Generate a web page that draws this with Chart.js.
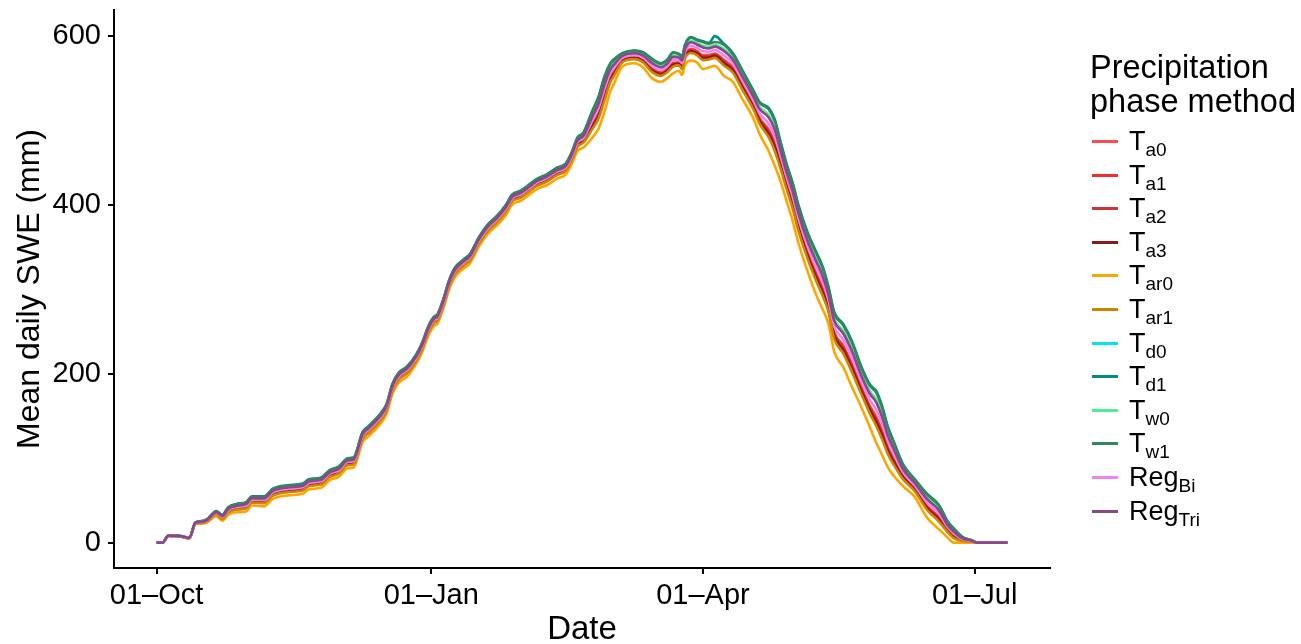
<!DOCTYPE html>
<html>
<head>
<meta charset="utf-8">
<title>Mean daily SWE by precipitation phase method</title>
<script src="https://cdn.jsdelivr.net/npm/chart.js@4.4.1/dist/chart.umd.min.js"></script>
<style>
    html, body { margin: 0; padding: 0; background: #fff; }
    #wrap { position: relative; width: 1301px; height: 644px; overflow: hidden; }
    #chart { position: absolute; left: 0; top: 0; }
    #legend { position: absolute; left: 1090px; top: 0; font-family: "Liberation Sans", Arial, sans-serif; color: #000; }
    .ltitle { position: absolute; left: 0; white-space: nowrap; font-size: 32.5px; line-height: 34px; }
    .litem { position: absolute; left: 0; height: 34px; display: flex; align-items: center; white-space: nowrap; }
    .lkey { width: 26px; height: 3px; margin-left: 2px; margin-right: 11px; }
    .ltext { font-size: 27px; line-height: 34px; }
    .ltext sub { font-size: 19px; vertical-align: -6px; line-height: 0; }
</style>
</head>
<body>
<div id="wrap">
    <canvas id="chart" width="1301" height="644"></canvas>
    <div id="legend"></div>
</div>
<script>
"use strict";

// Days since 01-Oct (leap-year season, daily SWE sampled off the figure)
const days = [0,2,4,8,11,13,15,17,20,22,24,27,30,32,36,39,44,49,51,55,58,61,64,66,69,71,75,77,79,81,84,87,89,91,93,94,96,98,100,103,105,108,111,114,117,119,122,124,127,131,134,137,139,141,143,146,148,150,152,153,156,160,163,166,169,171,173,175,176,177,179,181,183,185,187,190,193,196,200,202,205,207,209,211,213,215,218,221,223,225,227,230,233,236,239,241,243,245,247,250,254,258,262,265,267,270,273,275,285];

// Mean daily SWE (mm) per precipitation phase method
const ta0 = [0,0,8.3,7.5,5.5, 23,24,26,34.5,29.5, 37.5,41,42.5,49.5,49, 58,62,64,69,71, 80,84,94,95,125, 132,147,158,182,195, 203,217.5,231.5,250.5,262.5, 264.5,282.5,305.5,320.5,330.5, 336.5,356.5,371.5,381.5,394, 406,411,416,424,430.5, 437.5,442.5,455,472,477, 496,509,531,551.5,557, 572,575.5,572,561.5,557, 561,568.5,569,565,578, 585,582.5,577.5,577.5,579.5, 572,563,544,518.5,503, 489.5,474.5,451.5,427,404.5, 377.5,345,318.5,302.5,282, 249.5,233.5,211,185,161.5, 149.5,133,113,99,80, 64.5,44,30.5,15.5,8.5, 3.3,1.5,0,0];
const ta1 = [0,0,8.2,7.5,5.5, 22.9,23.9,25.8,34.3,29.2, 37.1,40.6,42.1,49.1,48.5, 57.5,61.5,63.5,68.5,70.5, 79.5,83.5,93.5,94.5,124.5, 131.5,146.5,157.5,181.5,194.5, 202.5,217.1,231.1,250.1,262.1, 264.1,282.1,305.1,320.1,330.1, 336.1,356.1,371.1,381.1,393.5, 405.5,410.5,415.5,423.5,430, 437,442,454.4,471.4,476.3, 494.7,507.5,529.3,550.2,555.8, 571.4,574.9,571.3,560.6,556.1, 560.1,567.5,568.2,564.1,577, 583.9,581.4,576.2,576.3,578.3, 570.5,561.6,542.6,517.2,501.5, 487.5,472.3,449.6,425.2,402.7, 375.7,343.2,316.5,300.5,280.2, 247.6,231.5,208.8,183.1,159.5, 147.1,130.7,111.1,97.4,79, 63.7,42.9,29.3,14.7,7.8, 3,1.4,0,0];
const ta2 = [0,0,8.2,7.4,5.4, 22.9,23.8,25.7,34.1,29, 36.9,40.3,41.7,48.7,48.2, 57.2,61.2,63.2,68.2,70.2, 79.2,83.2,93.2,94.2,124.2, 131.2,146.2,157.2,181.2,194.2, 202.2,216.7,230.7,249.7,261.7, 263.7,281.7,304.7,319.7,329.7, 335.7,355.7,370.7,380.7,393.2, 405.2,410.2,415.2,423.2,429.6, 436.6,441.6,454,470.9,475.7, 493.8,506.3,528.1,549.2,554.9, 570.9,574.5,570.7,559.9,555.5, 559.5,566.8,567.6,563.5,576.3, 583,580.6,575.2,575.5,577.5, 569.3,560.6,541.6,516.2,500.3, 485.9,470.7,448.2,423.9,401.4, 374.4,341.8,314.9,298.9,278.9, 246.2,229.9,207.2,181.6,157.9, 145.2,128.9,109.6,96.2,78.2, 63,42,28.5,14.2,7.3, 2.8,1.3,0,0];
const ta3 = [0,0,8.2,7.4,5.4, 22.8,23.7,25.6,33.9,28.8, 36.6,40,41.4,48.4,47.8, 56.8,60.8,62.8,67.8,69.8, 78.8,82.8,92.8,93.8,123.8, 130.8,145.8,156.8,180.8,193.8, 201.8,216.4,230.4,249.4,261.4, 263.4,281.4,304.4,319.4,329.4, 335.4,355.4,370.4,380.4,392.8, 404.8,409.8,414.8,422.8,429.2, 436.2,441.2,453.6,470.4,475.2, 492.8,505.2,526.8,548.2,554, 570.4,574,570.2,559.2,554.8, 558.8,566,567,562.8,575.6, 582.2,579.8,574.2,574.6,576.6, 568.2,559.6,540.6,515.2,499.2, 484.4,469,446.8,422.6,400, 373,340.4,313.4,297.4,277.6, 244.8,228.4,205.6,180.2,156.4, 143.4,127.2,108.2,95,77.4, 62.4,41.2,27.6,13.6,6.8, 2.6,1.2,0,0];
const tar0 = [0,0,8,7,5, 22,22.5,24,31.5,26, 33,36,37,44,43, 52,56,58,63,65, 74,78,88,89,119, 126,141,152,176,189, 197,212,226,245,257, 259,277,300,315,325, 331,351,366,376,388, 400,405,410,418,424, 431,436,448,464,468, 480,490,510,535,542, 564,568,563,550,546, 550,556,559,554,566, 571,569,561,563,565, 553,546,527,502,484, 464,447,428,405,382, 355,322,293,277,260, 226,208,184,161,136, 119,104,89,79,67, 54,30,16,6,0, 0,0,0,0];
const tar1 = [0,0,8.2,7.3,5.3, 22.6,23.5,25.3,33.4,28.2, 35.9,39.2,40.5,47.5,46.8, 55.8,59.8,61.8,66.8,68.8, 77.8,81.8,91.8,92.8,122.8, 129.8,144.8,155.8,179.8,192.8, 200.8,215.5,229.5,248.5,260.5, 262.5,280.5,303.5,318.5,328.5, 334.5,354.5,369.5,379.5,391.8, 403.8,408.8,413.8,421.8,428.2, 435.2,440.2,452.5,469.1,473.8, 490.2,502.2,523.4,545.6,551.6, 569.1,572.8,568.8,557.4,553, 557,564,565.4,561,573.7, 580,577.6,571.6,572.3,574.3, 565.2,556.9,537.9,512.6,496.2, 480.3,464.6,443,419.1,396.4, 369.4,336.7,309.3,293.3,274.1, 241,224.3,201.3,176.4,152.3, 138.5,122.6,104.4,91.8,75.3, 60.7,39,25.3,12.1,5.4, 2.1,1,0,0];
const td0 = [0,0,8.4,7.8,5.8, 23.6,24.9,27.2,36.3,31.6, 40.2,44,45.8,52.8,52.6, 61.6,65.6,67.6,72.6,74.6, 83.6,87.6,97.6,98.6,128.6, 135.6,150.6,161.6,185.6,198.6, 206.6,220.8,234.8,253.8,265.8, 267.8,285.8,308.8,323.8,333.8, 339.8,359.8,374.8,384.8,397.6, 409.6,414.6,419.6,427.6,434.4, 441.4,446.4,459.2,476.8,482.4, 505.6,520.4,543.6,561.4,566, 576.8,580,577.4,568.4,563.6, 567.6,576,575,571.6,585.2, 593.4,590.6,587.4,586.2,588.2, 583.4,573.2,554.2,528.4,514.4, 504.8,491,465.6,440.2,418, 391,358.8,333.8,317.8,295.2, 263.6,248.8,227.2,199.4,176.8, 167.8,150.4,127.4,111,87.8, 70.8,52.4,39.2,21.2,13.6, 5.2,2.4,0,0];
const td1 = [0,0,8.5,8,6, 24,25.5,28,37.5,33, 42,46,48,55,55, 64,68,70,75,77, 86,90,100,101,131, 138,153,164,188,201, 209,223,237,256,268, 270,288,311,326,336, 342,362,377,387,400, 412,417,422,430,437, 444,449,462,480,486, 512,528,552,568,572, 580,583,581,573,568, 572,581,579,576,590, 599,596,594,592,600, 591,580,561,535,522, 515,502,475,449,427, 400,368,344,328,304, 273,259,238,209,187, 180,162,137,119,93, 75,58,45,25,17, 6.5,3,0,0];
const tw0 = [0,0,8.4,7.8,5.8, 23.7,25,27.4,36.5,31.9, 40.6,44.4,46.2,53.2,53.1, 62.1,66.1,68.1,73.1,75.1, 84.1,88.1,98.1,99.1,129.1, 136.1,151.1,162.1,186.1,199.1, 207.1,221.2,235.2,254.2,266.2, 268.2,286.2,309.2,324.2,334.2, 340.2,360.2,375.2,385.2,398.1, 410.1,415.1,420.1,428.1,434.9, 441.9,446.9,459.8,477.4,483.1, 506.9,521.9,545.3,562.7,567.2, 577.4,580.6,578.1,569.3,564.5, 568.5,577,575.8,572.5,586.2, 594.5,591.7,588.7,587.4,589.4, 584.9,574.6,555.6,529.7,515.9, 506.8,493.2,467.5,442,419.8, 392.8,360.6,335.8,319.8,297, 265.5,250.8,229.4,201.3,178.8, 170.2,152.7,129.3,112.6,88.8, 71.6,53.5,40.4,22,14.3, 5.5,2.5,0,0];
const tw1 = [0,0,8.5,8,6, 23.9,25.4,27.9,37.3,32.8, 41.7,45.7,47.7,54.7,54.6, 63.6,67.6,69.6,74.6,76.6, 85.6,89.6,99.6,100.6,130.6, 137.6,152.6,163.6,187.6,200.6, 208.6,222.7,236.7,255.7,267.7, 269.7,287.7,310.7,325.7,335.7, 341.7,361.7,376.7,386.7,399.6, 411.6,416.6,421.6,429.6,436.6, 443.6,448.6,461.6,479.5,485.5, 511,526.9,550.7,567,571.1, 579.5,582.6,580.5,572.3,567.3, 571.3,580.3,578.4,575.3,589.3, 598.2,595.2,593,591.1,593.1, 589.9,579,560,534,520.9, 513.5,500.4,473.6,447.7,425.7, 398.7,366.6,342.5,326.5,302.7, 271.6,257.5,236.4,207.6,185.5, 178.2,160.3,135.6,117.8,92.2, 74.4,57.2,44.1,24.4,16.5, 6.3,2.9,0,0];
const regBi = [0,0,8.3,7.6,5.6, 23.3,24.4,26.6,35.3,30.5, 38.8,42.4,44,51,50.7, 59.7,63.7,65.7,70.7,72.7, 81.7,85.7,95.7,96.7,126.7, 133.7,148.7,159.7,183.7,196.7, 204.7,219,233,252,264, 266,284,307,322,332, 338,358,373,383,395.7, 407.7,412.7,417.7,425.7,432.3, 439.3,444.3,457,474.2,479.5, 500.5,514.3,536.9,556.1,561.2, 574.2,577.6,574.5,564.7,560.1, 564.1,572,571.8,568.1,581.4, 588.9,586.3,582.1,581.6,583.6, 577.3,567.8,548.8,523.1,508.3, 496.6,482.2,458.1,433.2,410.8, 383.8,351.4,325.6,309.6,288.2, 256.1,240.6,218.6,191.7,168.6, 158,141.1,119.7,104.6,83.6, 67.4,47.9,34.6,18.2,10.9, 4.2,1.9,0,0];
const regTri = [0,0,8.4,7.8,5.8, 23.6,24.8,27.1,36.2,31.5, 40,43.8,45.6,52.6,52.4, 61.4,65.4,67.4,72.4,74.4, 83.4,87.4,97.4,98.4,128.4, 135.4,150.4,161.4,185.4,198.4, 206.4,220.6,234.6,253.6,265.6, 267.6,285.6,308.6,323.6,333.6, 339.6,359.6,374.6,384.6,397.4, 409.4,414.4,419.4,427.4,434.1, 441.1,446.1,458.9,476.5,482, 505,519.6,542.8,560.7,565.4, 576.5,579.7,577,567.9,563.2, 567.2,575.5,574.6,571.2,584.7, 592.8,590.1,586.7,585.6,587.6, 582.6,572.5,553.5,527.7,513.6, 503.8,489.9,464.7,439.3,417.1, 390.1,357.9,332.8,316.8,294.3, 262.7,247.8,226.1,198.4,175.8, 166.6,149.2,126.4,110.2,87.3, 70.4,51.8,38.6,20.8,13.3, 5.1,2.3,0,0];

// Legend labels (main text + subscript) and line colours
const labelMain = ["T", "T", "T", "T", "T", "T", "T", "T", "T", "T", "Reg", "Reg"];
const labelSub  = ["a0", "a1", "a2", "a3", "ar0", "ar1", "d0", "d1", "w0", "w1", "Bi", "Tri"];
const colors = ["#FF4A4A", "#F42C2C", "#CD3333", "#8B1A1A", "#FFA500", "#CD8500",
                "#00E5EE", "#008B8B", "#4EEE94", "#2E8B57", "#EE82EE", "#8B4789"];
const series = [ta0, ta1, ta2, ta3, tar0, tar1, td0, td1, tw0, tw1, regBi, regTri];

// Axis ticks
const tickDays = [0, 92, 183, 274];
const tickLabels = ["01\u2013Oct", "01\u2013Jan", "01\u2013Apr", "01\u2013Jul"];
const yTicks = [0, 200, 400, 600];

const FONT = "'Liberation Sans', Arial, Helvetica, sans-serif";

const datasets = series.map((vals, i) => ({
    label: labelMain[i] + labelSub[i],
    data: days.map((d, j) => ({ x: d, y: vals[j] })),
    borderColor: colors[i],
    backgroundColor: colors[i],
    borderWidth: 2.6,
    pointRadius: 0,
    fill: false,
    cubicInterpolationMode: "monotone",
    // ggplot draws the last level on top
    order: series.length - i
}));

// Keep tick labels from pushing the plot area inwards
function noLabelPadding(s) {
    s.paddingTop = 0;
    s.paddingBottom = 0;
    s.paddingLeft = 0;
    s.paddingRight = 0;
}

const ctx = document.getElementById("chart").getContext("2d");
new Chart(ctx, {
    type: "line",
    data: { datasets },
    options: {
        responsive: false,
        animation: false,
        layout: { padding: { left: 0, right: 251, top: 10, bottom: 0 } },
        plugins: { legend: { display: false }, tooltip: { enabled: false } },
        scales: {
            x: {
                type: "linear",
                min: -14.25,
                max: 299.25,
                afterBuildTicks: s => { s.ticks = tickDays.map(v => ({ value: v })); },
                afterFit: s => { s.height = 76; noLabelPadding(s); },
                ticks: {
                    callback: v => tickLabels[tickDays.indexOf(v)],
                    font: { family: FONT, size: 29 },
                    color: "#000",
                    padding: 5,
                    maxRotation: 0,
                    autoSkip: false
                },
                grid: { display: true, drawOnChartArea: false, drawTicks: true, tickLength: 6, color: "#000", lineWidth: 2 },
                border: { display: true, color: "#000", width: 2 },
                title: { display: true, text: "Date", color: "#000", font: { family: FONT, size: 33, lineHeight: 1 }, padding: { top: 0, bottom: -2 } }
            },
            y: {
                type: "linear",
                min: -30,
                max: 631,
                afterBuildTicks: s => { s.ticks = yTicks.map(v => ({ value: v })); },
                afterFit: s => { s.width = 114; noLabelPadding(s); },
                ticks: {
                    font: { family: FONT, size: 29 },
                    color: "#000",
                    padding: 7
                },
                grid: { display: true, drawOnChartArea: false, drawTicks: true, tickLength: 6, color: "#000", lineWidth: 2 },
                border: { display: true, color: "#000", width: 2 },
                title: { display: true, text: "Mean daily SWE (mm)", color: "#000", font: { family: FONT, size: 32, lineHeight: 1 }, padding: { top: 14, bottom: 0 } }
            }
        }
    }
});

// HTML legend so the subscripts stay real text
const legend = document.getElementById("legend");
["Precipitation", "phase method"].forEach((t, k) => {
    const d = document.createElement("div");
    d.className = "ltitle";
    d.style.top = (50 + k * 34) + "px";
    d.textContent = t;
    legend.appendChild(d);
});
labelMain.forEach((m, i) => {
    const row = document.createElement("div");
    row.className = "litem";
    row.style.top = Math.round(124 + i * 33.6) + "px";
    const key = document.createElement("span");
    key.className = "lkey";
    key.style.background = colors[i];
    const txt = document.createElement("span");
    txt.className = "ltext";
    txt.innerHTML = m + "<sub>" + labelSub[i] + "</sub>";
    row.appendChild(key);
    row.appendChild(txt);
    legend.appendChild(row);
});
</script>
</body>
</html>
